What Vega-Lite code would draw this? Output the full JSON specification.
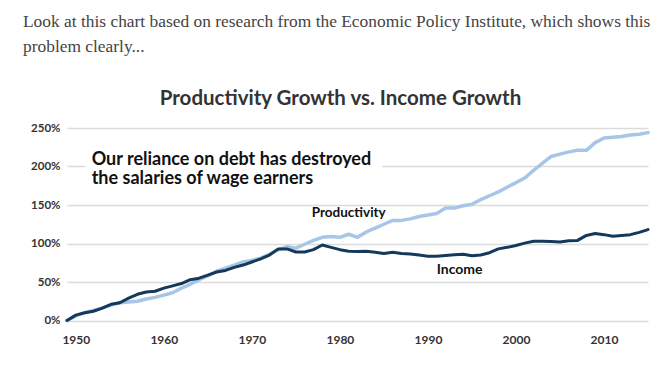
{
  "$schema": "https://vega.github.io/schema/vega-lite/v6.json",
  "background": "white",
  "padding": {"left": 23, "top": 13, "right": 0, "bottom": 0},
  "title": {
    "text": ["Look at this chart based on research from the Economic Policy Institute, which shows this", "problem clearly..."],
    "anchor": "start",
    "dx": -5,
    "font": "Liberation Serif",
    "fontSize": 17.4,
    "fontWeight": "normal",
    "color": "#444444",
    "lineHeight": 25,
    "offset": 33
  },
  "config": {
    "view": {"stroke": null},
    "concat": {"spacing": 0}
  },
  "datasets": {
    "series": [
      {"year": 1949, "series": "Productivity", "value": 0}, {"year": 1949, "series": "Income", "value": 0},
      {"year": 1950, "series": "Productivity", "value": 6}, {"year": 1950, "series": "Income", "value": 7},
      {"year": 1951, "series": "Productivity", "value": 10}, {"year": 1951, "series": "Income", "value": 10},
      {"year": 1952, "series": "Productivity", "value": 13}, {"year": 1952, "series": "Income", "value": 12},
      {"year": 1953, "series": "Productivity", "value": 16}, {"year": 1953, "series": "Income", "value": 16},
      {"year": 1954, "series": "Productivity", "value": 20}, {"year": 1954, "series": "Income", "value": 21},
      {"year": 1955, "series": "Productivity", "value": 23}, {"year": 1955, "series": "Income", "value": 23},
      {"year": 1956, "series": "Productivity", "value": 24}, {"year": 1956, "series": "Income", "value": 29},
      {"year": 1957, "series": "Productivity", "value": 25}, {"year": 1957, "series": "Income", "value": 34},
      {"year": 1958, "series": "Productivity", "value": 28}, {"year": 1958, "series": "Income", "value": 37},
      {"year": 1959, "series": "Productivity", "value": 30}, {"year": 1959, "series": "Income", "value": 38},
      {"year": 1960, "series": "Productivity", "value": 33}, {"year": 1960, "series": "Income", "value": 42},
      {"year": 1961, "series": "Productivity", "value": 36}, {"year": 1961, "series": "Income", "value": 45},
      {"year": 1962, "series": "Productivity", "value": 42}, {"year": 1962, "series": "Income", "value": 48},
      {"year": 1963, "series": "Productivity", "value": 47}, {"year": 1963, "series": "Income", "value": 53},
      {"year": 1964, "series": "Productivity", "value": 53}, {"year": 1964, "series": "Income", "value": 55},
      {"year": 1965, "series": "Productivity", "value": 58}, {"year": 1965, "series": "Income", "value": 59},
      {"year": 1966, "series": "Productivity", "value": 64}, {"year": 1966, "series": "Income", "value": 63},
      {"year": 1967, "series": "Productivity", "value": 68}, {"year": 1967, "series": "Income", "value": 65},
      {"year": 1968, "series": "Productivity", "value": 72}, {"year": 1968, "series": "Income", "value": 69},
      {"year": 1969, "series": "Productivity", "value": 76}, {"year": 1969, "series": "Income", "value": 72},
      {"year": 1970, "series": "Productivity", "value": 78}, {"year": 1970, "series": "Income", "value": 76},
      {"year": 1971, "series": "Productivity", "value": 81}, {"year": 1971, "series": "Income", "value": 80},
      {"year": 1972, "series": "Productivity", "value": 86}, {"year": 1972, "series": "Income", "value": 85},
      {"year": 1973, "series": "Productivity", "value": 92}, {"year": 1973, "series": "Income", "value": 93},
      {"year": 1974, "series": "Productivity", "value": 96}, {"year": 1974, "series": "Income", "value": 93},
      {"year": 1975, "series": "Productivity", "value": 94}, {"year": 1975, "series": "Income", "value": 89},
      {"year": 1976, "series": "Productivity", "value": 99}, {"year": 1976, "series": "Income", "value": 89},
      {"year": 1977, "series": "Productivity", "value": 104}, {"year": 1977, "series": "Income", "value": 92},
      {"year": 1978, "series": "Productivity", "value": 108}, {"year": 1978, "series": "Income", "value": 98},
      {"year": 1979, "series": "Productivity", "value": 109}, {"year": 1979, "series": "Income", "value": 95},
      {"year": 1980, "series": "Productivity", "value": 108}, {"year": 1980, "series": "Income", "value": 92},
      {"year": 1981, "series": "Productivity", "value": 112}, {"year": 1981, "series": "Income", "value": 90},
      {"year": 1982, "series": "Productivity", "value": 108}, {"year": 1982, "series": "Income", "value": 89.5},
      {"year": 1983, "series": "Productivity", "value": 115}, {"year": 1983, "series": "Income", "value": 90},
      {"year": 1984, "series": "Productivity", "value": 120}, {"year": 1984, "series": "Income", "value": 88.5},
      {"year": 1985, "series": "Productivity", "value": 125}, {"year": 1985, "series": "Income", "value": 87},
      {"year": 1986, "series": "Productivity", "value": 130}, {"year": 1986, "series": "Income", "value": 88.5},
      {"year": 1987, "series": "Productivity", "value": 130}, {"year": 1987, "series": "Income", "value": 87},
      {"year": 1988, "series": "Productivity", "value": 132}, {"year": 1988, "series": "Income", "value": 86.5},
      {"year": 1989, "series": "Productivity", "value": 135}, {"year": 1989, "series": "Income", "value": 85},
      {"year": 1990, "series": "Productivity", "value": 137}, {"year": 1990, "series": "Income", "value": 83.5},
      {"year": 1991, "series": "Productivity", "value": 139}, {"year": 1991, "series": "Income", "value": 83.5},
      {"year": 1992, "series": "Productivity", "value": 146}, {"year": 1992, "series": "Income", "value": 84.5},
      {"year": 1993, "series": "Productivity", "value": 146}, {"year": 1993, "series": "Income", "value": 85.5},
      {"year": 1994, "series": "Productivity", "value": 149}, {"year": 1994, "series": "Income", "value": 86},
      {"year": 1995, "series": "Productivity", "value": 151}, {"year": 1995, "series": "Income", "value": 84},
      {"year": 1996, "series": "Productivity", "value": 157}, {"year": 1996, "series": "Income", "value": 85},
      {"year": 1997, "series": "Productivity", "value": 162}, {"year": 1997, "series": "Income", "value": 88},
      {"year": 1998, "series": "Productivity", "value": 167}, {"year": 1998, "series": "Income", "value": 93},
      {"year": 1999, "series": "Productivity", "value": 173}, {"year": 1999, "series": "Income", "value": 95},
      {"year": 2000, "series": "Productivity", "value": 179}, {"year": 2000, "series": "Income", "value": 97.5},
      {"year": 2001, "series": "Productivity", "value": 185}, {"year": 2001, "series": "Income", "value": 100.5},
      {"year": 2002, "series": "Productivity", "value": 195}, {"year": 2002, "series": "Income", "value": 103},
      {"year": 2003, "series": "Productivity", "value": 204}, {"year": 2003, "series": "Income", "value": 103},
      {"year": 2004, "series": "Productivity", "value": 213}, {"year": 2004, "series": "Income", "value": 102.5},
      {"year": 2005, "series": "Productivity", "value": 216}, {"year": 2005, "series": "Income", "value": 102},
      {"year": 2006, "series": "Productivity", "value": 219}, {"year": 2006, "series": "Income", "value": 103.5},
      {"year": 2007, "series": "Productivity", "value": 221}, {"year": 2007, "series": "Income", "value": 104},
      {"year": 2008, "series": "Productivity", "value": 221}, {"year": 2008, "series": "Income", "value": 110.5},
      {"year": 2009, "series": "Productivity", "value": 231}, {"year": 2009, "series": "Income", "value": 113},
      {"year": 2010, "series": "Productivity", "value": 237}, {"year": 2010, "series": "Income", "value": 111.5},
      {"year": 2011, "series": "Productivity", "value": 238}, {"year": 2011, "series": "Income", "value": 109.5},
      {"year": 2012, "series": "Productivity", "value": 239}, {"year": 2012, "series": "Income", "value": 110.5},
      {"year": 2013, "series": "Productivity", "value": 241}, {"year": 2013, "series": "Income", "value": 111.5},
      {"year": 2014, "series": "Productivity", "value": 242}, {"year": 2014, "series": "Income", "value": 114.5},
      {"year": 2015, "series": "Productivity", "value": 244}, {"year": 2015, "series": "Income", "value": 118}
    ],
    "labels": [
      {"label": "Productivity", "year": 1981, "value": 139, "size": 13.5},
      {"label": "Income", "year": 1993.6, "value": 66, "size": 14}
    ],
    "note": [
      {"label": "Our reliance on debt has destroyed\nthe salaries of wage earners", "year": 1951.8, "value": 202.5}
    ],
    "noteBox": [
      {"year": 1951.1, "year2": 1984.8, "value": 183, "value2": 222}
    ]
  },
  "vconcat": [
    {
      "width": 581,
      "height": 192.5,
      "title": {
        "text": "Productivity Growth vs. Income Growth",
        "anchor": "middle",
        "dx": -17,
        "font": "Lato",
        "fontSize": 20.5,
        "fontWeight": "bold",
        "color": "#333333",
        "offset": 13
      },
      "encoding": {
        "x": {
          "field": "year", "type": "quantitative",
          "scale": {"domain": [1949, 2015], "nice": false, "zero": false},
          "axis": {
            "title": null, "values": [1950, 1960, 1970, 1980, 1990, 2000, 2010], "format": "d",
            "domain": false, "ticks": false, "grid": false, "labelFlush": false, "labelOverlap": false,
            "labelFont": "Lato", "labelFontSize": 12, "labelFontWeight": "bold", "labelColor": "#333333",
            "labelPadding": 14
          }
        },
        "y": {
          "field": "value", "type": "quantitative",
          "scale": {"domain": [0, 250], "nice": false},
          "axis": {
            "title": null, "values": [0, 50, 100, 150, 200, 250], "labelExpr": "datum.value + '%'",
            "domain": false, "ticks": false, "grid": true, "gridColor": "#dcdcdc", "gridWidth": 1.5,
            "labelOverlap": false, "labelBound": false, "labelFlush": false,
            "labelFont": "Lato", "labelFontSize": 11.5, "labelFontWeight": "bold", "labelColor": "#333333",
            "labelPadding": 7, "minExtent": 39, "maxExtent": 39
          }
        }
      },
      "layer": [
        {
          "data": {"name": "series"},
          "transform": [{"filter": "datum.series === 'Productivity'"}],
          "mark": {"type": "line", "color": "#a7c6e7", "strokeWidth": 3.5, "strokeJoin": "round", "strokeCap": "round"},
          "encoding": {}
        },
        {
          "data": {"name": "series"},
          "transform": [{"filter": "datum.series === 'Income'"}],
          "mark": {"type": "line", "color": "#15395b", "strokeWidth": 3, "strokeJoin": "round", "strokeCap": "round"},
          "encoding": {}
        },
        {
          "data": {"name": "noteBox"},
          "mark": {"type": "rect", "color": "white"},
          "encoding": {
            "x2": {"field": "year2"},
            "y2": {"field": "value2"}
          }
        },
        {
          "data": {"name": "note"},
          "mark": {"type": "text", "align": "left", "baseline": "alphabetic", "lineBreak": "\n", "lineHeight": 19, "font": "Lato", "fontSize": 18, "fontWeight": "bold", "color": "#111111"},
          "encoding": {
            "text": {"field": "label"}
          }
        },
        {
          "data": {"name": "labels"},
          "mark": {"type": "text", "align": "center", "baseline": "middle", "font": "Lato", "fontWeight": "bold", "color": "#111111"},
          "encoding": {
            "text": {"field": "label"},
            "size": {"field": "size", "type": "quantitative", "scale": null}
          }
        }
      ]
    }
  ]
}
